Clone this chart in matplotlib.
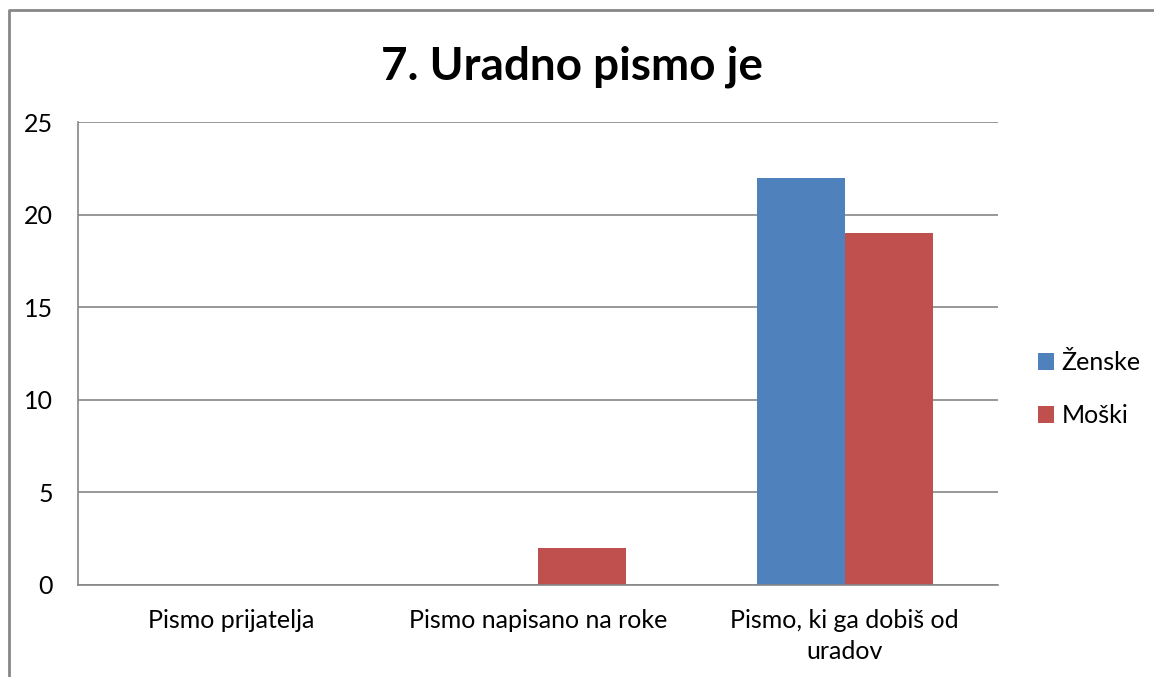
import matplotlib.pyplot as plt
import numpy as np
from matplotlib.lines import Line2D

categories = ['Pismo prijatelja', 'Pismo napisano na roke', 'Pismo, ki ga dobiš od\nuradov']
zenske = [0, 0, 22]
moski = [0, 2, 19]
series_names = ['Ženske', 'Moški']

plt.rcParams['font.family'] = ['Lato', 'DejaVu Sans']

fig = plt.figure(figsize=(11.54, 6.77), dpi=100)
W, H = 1154, 677
ax = fig.add_axes([78 / W, 1 - 585 / H, (998 - 78) / W, (585 - 122) / H])

# outer chart border (only top and left are visible)
fig.lines.append(Line2D([9 / W, 9 / W, 1.0], [0.0, 1 - 10 / H, 1 - 10 / H],
                        transform=fig.transFigure, color='#878787', linewidth=2))

x = np.arange(len(categories))
w = 0.287
ax.bar(x - w / 2, zenske, w, color='#4F81BD', label=series_names[0])
ax.bar(x + w / 2, moski, w, color='#C0504D', label=series_names[1])

ax.set_xlim(-0.5, 2.5)
ax.set_ylim(0, 25)
ax.set_yticks(range(0, 26, 5))
ax.yaxis.grid(True, color='#868686', linewidth=1.2)
ax.set_axisbelow(True)
for s in ['top', 'right']:
    ax.spines[s].set_visible(False)
for s in ['left', 'bottom']:
    ax.spines[s].set_color('#868686')
    ax.spines[s].set_linewidth(1.2)
ax.tick_params(length=0, labelsize=18)
ax.tick_params(axis='y', pad=18)
ax.tick_params(axis='x', pad=17)
ax.set_xticks(x)
ax.set_xticklabels(categories, fontsize=18, linespacing=1.45)

fig.text(572 / W, 1 - 67 / H, '7. Uradno pismo je', fontsize=33, fontweight='bold',
         ha='center', va='center')

fig.legend(loc='center left', bbox_to_anchor=(1038 / W, 1 - 389 / H), frameon=False,
           fontsize=18, handlelength=0.65, handleheight=0.65, handletextpad=0.3,
           labelspacing=1.2, borderaxespad=0, borderpad=0)

fig.savefig('out.png', dpi=100)
